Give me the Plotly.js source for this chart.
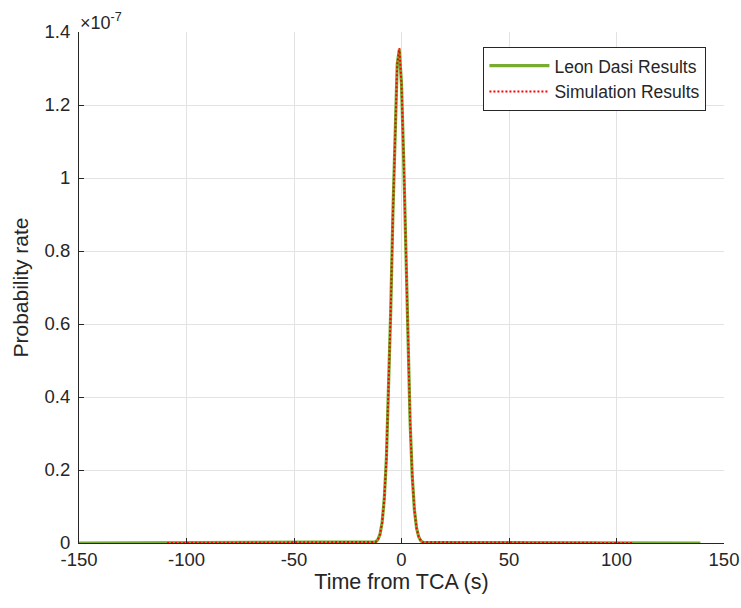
<!DOCTYPE html>
<html>
<head>
<meta charset="utf-8">
<script src="https://cdn.plot.ly/plotly-3.0.1.min.js"></script>
<style>html,body{margin:0;padding:0;background:#fff;}#chart{width:741px;height:608px;}</style>
</head>
<body>
<div id="chart"></div>
<script>
// Time from TCA (s)
const leonTime = [-150, -12, -11, -10, -9, -8, -7, -6, -5, -4, -3, -2, -1, 0, 1, 2, 3, 4, 5, 6, 7, 8, 9, 10, 139];
// Probability rate, in units of 1e-7
const leonRate = [0, 0.003, 0.009, 0.024, 0.057, 0.122, 0.235, 0.409, 0.639, 0.901, 1.145, 1.311, 1.352, 1.257, 1.053, 0.795, 0.541, 0.332, 0.183, 0.091, 0.041, 0.017, 0.006, 0.002, 0];

const simTime = [-109, -12, -11, -10, -9, -8, -7, -6, -5, -4, -3, -2, -1, 0, 1, 2, 3, 4, 5, 6, 7, 8, 9, 10, 108];
const simRate = [0, 0.003, 0.009, 0.024, 0.057, 0.122, 0.235, 0.409, 0.639, 0.901, 1.145, 1.311, 1.356, 1.257, 1.053, 0.795, 0.541, 0.332, 0.183, 0.091, 0.041, 0.017, 0.006, 0.002, 0];

const xTicks = [-150, -100, -50, 0, 50, 100, 150];
const yTicks = [0, 0.2, 0.4, 0.6, 0.8, 1, 1.2, 1.4];
const yTickText = ['0', '0.2', '0.4', '0.6', '0.8', '1', '1.2', '1.4'];

const font = {family: 'Liberation Sans, Arial, sans-serif', color: '#262626'};

const traces = [
  {x: leonTime, y: leonRate, type: 'scatter', mode: 'lines', name: 'Leon Dasi Results',
   line: {color: '#77AC30', width: 3.2}},
  {x: simTime, y: simRate, type: 'scatter', mode: 'lines', name: 'Simulation Results',
   line: {color: '#FF0000', width: 2, dash: '2px,2px'}}
];

const layout = {
  width: 741, height: 608,
  margin: {l: 79, r: 17, t: 32, b: 65},
  paper_bgcolor: '#fff', plot_bgcolor: '#fff',
  font: Object.assign({size: 18.5}, font),
  showlegend: true,
  legend: {x: 0.627, y: 0.971, xanchor: 'left', yanchor: 'top',
    bordercolor: '#262626', borderwidth: 1, bgcolor: '#fff',
    font: Object.assign({size: 17.5}, font), tracegroupgap: 0, itemwidth: 60},
  xaxis: {
    range: [-150, 150], tickvals: xTicks, ticktext: xTicks.map(String),
    showgrid: true, gridcolor: '#e3e3e3', gridwidth: 1, zeroline: false,
    showline: true, linecolor: '#262626', linewidth: 1,
    ticks: 'inside', ticklen: 5, tickcolor: '#262626',
    tickfont: Object.assign({size: 18.5}, font),
    title: {text: 'Time from TCA (s)', font: Object.assign({size: 21.5}, font), standoff: 4}
  },
  yaxis: {
    range: [0, 1.4], tickvals: yTicks, ticktext: yTickText,
    showgrid: true, gridcolor: '#e3e3e3', gridwidth: 1, zeroline: false,
    showline: true, linecolor: '#262626', linewidth: 1,
    ticks: 'inside', ticklen: 5, tickcolor: '#262626', ticklabelstandoff: 4,
    tickfont: Object.assign({size: 18.5}, font),
    title: {text: 'Probability rate', font: Object.assign({size: 21}, font), standoff: 10}
  },
  annotations: [{
    xref: 'paper', yref: 'paper', x: 0, y: 1, xanchor: 'left', yanchor: 'bottom',
    text: '×10<sup>-7</sup>', showarrow: false, font: Object.assign({size: 18}, font),
    xshift: -1, yshift: -3
  }]
};

Plotly.newPlot('chart', traces, layout, {displayModeBar: false, staticPlot: true});
</script>
</body>
</html>
